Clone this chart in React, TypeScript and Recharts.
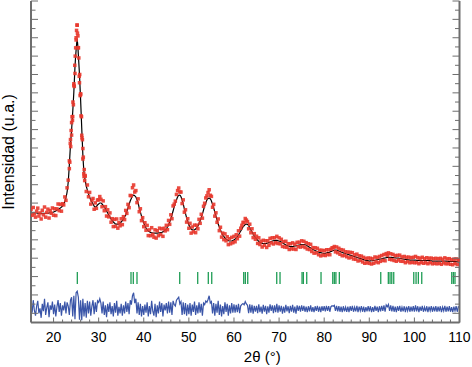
import React from 'react';
import { ComposedChart, Line, Scatter, XAxis, YAxis, ReferenceLine, Label } from 'recharts';

// 2θ grid of the measured pattern (start, step in degrees)
const TWO_THETA_START = 15;
const TWO_THETA_STEP = 0.25;

// calculated (Rietveld fit) intensity, arbitrary units
const calcValues = [
  1192,1192,1192,1192,1192,1192,1190,1189,1187,1187,1187,1187,1187,1187,1188,1189,1192,1193,1194,1197,
  1203,1208,1214,1222,1230,1238,1246,1257,1268,1290,1317,1360,1421,1530,1715,1932,2096,2292,2509,2781,
  2966,3086,2912,2700,2422,2118,1824,1639,1552,1486,1442,1399,1366,1334,1312,1290,1268,1257,1263,1279,
  1290,1301,1301,1290,1274,1257,1236,1214,1192,1170,1148,1127,1110,1094,1083,1072,1072,1072,1072,1083,
  1094,1110,1127,1150,1170,1208,1246,1285,1323,1350,1377,1387,1380,1366,1335,1301,1246,1203,1159,1121,
  1083,1056,1029,1012,996,988,980,977,974,974,974,974,974,975,977,978,980,988,996,1007,
  1018,1040,1061,1094,1127,1170,1214,1258,1301,1334,1366,1384,1386,1370,1335,1290,1236,1187,1138,1100,
  1061,1040,1018,1010,1007,1010,1018,1034,1050,1078,1105,1143,1181,1225,1268,1301,1334,1350,1355,1345,
  1323,1285,1246,1203,1159,1116,1072,1040,1007,980,953,937,920,909,898,893,887,887,887,893,
  898,909,920,937,953,975,996,1018,1040,1054,1067,1070,1068,1055,1030,1007,985,964,942,926,
  909,896,882,874,865,862,860,860,860,862,865,870,876,882,887,890,893,893,893,890,
  887,882,876,868,860,852,844,838,833,830,827,827,827,830,833,835,838,841,844,846,
  849,849,849,846,844,835,827,819,811,803,795,790,784,778,773,768,762,760,757,754,
  751,754,757,760,762,768,773,778,784,787,789,787,784,778,773,768,762,758,754,750,
  746,742,738,734,729,725,721,717,713,709,705,701,697,693,689,684,680,677,675,672,
  669,670,672,673,675,678,680,683,686,689,691,694,697,700,702,705,708,708,708,708,
  708,706,705,703,702,701,700,698,697,694,691,689,686,685,683,682,680,680,680,680,
  680,679,677,676,675,675,675,675,675,675,675,675,675,674,672,671,669,669,669,669,
  669,669,669,669,669,669,669,669,669,668,666,665,664,664,664,664,664,662,661,660,
  658,
];

// observed intensity
const obsValues = [
  1232,1167,1252,1182,1147,1212,1245,1159,1192,1127,1222,1172,1257,1147,1198,1234,1137,1218,1189,1247,
  1168,1238,1164,1237,1290,1218,1286,1212,1293,1280,1367,1330,1466,1550,1675,1992,2176,2242,2599,2711,
  3076,3236,2992,2610,2482,2038,1894,1589,1592,1426,1497,1369,1416,1289,1332,1350,1233,1302,1243,1334,
  1335,1371,1341,1260,1324,1217,1261,1159,1227,1150,1193,1092,1130,1044,1123,1047,1127,1027,1087,1053,
  1129,1065,1152,1120,1220,1188,1286,1250,1383,1380,1467,1497,1420,1436,1305,1346,1206,1238,1109,1141,
  1043,1086,1004,1057,946,1008,945,1032,959,929,1009,919,999,945,1027,958,1020,938,1026,997,
  1058,1010,1111,1069,1172,1130,1269,1288,1321,1394,1436,1464,1421,1420,1295,1335,1201,1227,1093,1130,
  1026,1080,973,1040,987,1060,978,1059,1020,1123,1080,1178,1136,1265,1298,1356,1379,1415,1445,1385,
  1373,1255,1286,1158,1194,1091,1127,1000,1037,930,973,902,965,889,933,848,912,857,927,868,
  938,879,955,912,998,940,1026,1058,1090,1089,1132,1115,1098,1020,1070,977,1020,924,967,906,
  939,861,922,849,885,822,895,840,890,817,890,840,916,867,922,855,923,868,938,860,
  922,857,906,828,880,822,884,818,858,795,857,802,867,800,853,795,873,826,874,821,
  889,829,884,816,869,800,857,794,851,773,815,755,814,758,808,738,787,725,787,734,
  781,729,792,740,792,738,798,813,814,827,769,822,759,808,743,793,727,788,729,770,
  716,767,703,764,709,760,691,737,688,744,670,726,677,723,659,709,645,697,650,702,
  644,700,637,693,645,713,660,708,651,719,666,729,677,740,672,750,733,758,688,748,
  683,741,675,728,667,731,680,733,667,714,666,719,651,710,663,712,650,705,655,710,
  650,719,652,706,640,700,655,710,645,695,650,705,640,699,652,701,639,694,644,699,
  639,694,644,699,634,689,649,704,639,693,641,695,634,684,629,689,644,692,631,685,
  680,
];

// extra observed points measured densely across the main (101) reflection
const peakObsX = [
  23.5,23.6,23.7,23.8,23.9,24.0,24.1,24.2,24.3,24.4,24.5,24.6,24.7,24.8,24.9,25.0,25.1,25.2,
  25.3,25.4,25.5,25.6,25.7,25.8,25.9,26.0,26.1,26.2,26.3,26.4,26.5,26.6,26.7,26.8,26.9,27.0,
];
const peakObsValues = [
  1760,1745,1950,1915,2090,2040,2240,2200,2400,2370,2580,2570,2800,2900,2990,3100,3180,3239,
  3150,3120,2990,2880,2680,2700,2470,2490,2250,2240,2010,1990,1780,1800,1620,1665,1545,1600,
];

// difference curve (observed - calculated, shifted down)
const diffValues = [
  211,107,243,131,75,179,235,99,155,51,203,123,259,83,163,219,59,187,139,227,
  91,195,67,171,243,115,211,75,187,131,227,99,219,179,83,243,275,67,291,35,
  323,340,275,30,243,25,259,67,211,51,235,99,227,75,179,243,91,219,115,235,
  219,259,211,99,227,83,187,59,203,115,219,91,179,67,211,107,235,75,171,99,
  203,75,187,99,227,115,211,91,243,195,291,323,211,259,99,219,83,203,67,179,
  83,195,107,219,67,179,91,235,123,75,203,59,187,99,227,115,211,67,195,131,
  211,99,227,107,219,83,235,195,179,243,259,275,203,227,83,219,91,211,75,195,
  91,211,75,195,115,227,83,187,99,219,107,203,75,211,195,235,219,251,291,211,
  227,99,211,75,203,107,235,83,195,67,179,91,219,115,203,75,187,99,211,107,
  197,107,192,112,202,102,182,197,207,192,227,202,187,102,197,107,192,97,182,117,
  182,102,197,112,172,97,192,117,182,92,177,107,197,127,187,102,187,112,202,107,
  187,117,182,97,172,107,192,122,177,102,182,117,192,107,172,97,187,127,182,117,
  187,127,182,117,172,112,177,122,187,117,167,112,177,127,182,117,172,112,177,127,
  177,122,182,127,177,117,172,182,177,187,127,182,122,177,117,172,112,177,122,167,
  117,172,112,177,127,182,117,167,122,182,112,172,127,177,117,172,112,167,122,177,
  122,177,112,167,117,182,127,172,112,177,122,182,127,187,117,192,172,197,127,187,
  122,182,117,172,112,177,127,182,117,167,122,177,112,172,127,177,117,172,122,177,
  117,187,122,177,112,172,127,182,117,167,122,177,112,172,127,177,117,172,122,177,
  117,172,122,177,112,167,127,182,117,172,122,177,117,167,112,172,127,177,117,172,
  169,
];

// Bragg reflection positions (2θ, degrees)
const braggPositions = [
  25.27, 37.17, 37.68, 38.5, 47.97, 51.96, 54.31, 55.07, 62.16, 62.52, 63.05, 69.48, 70.21,
  75.09, 75.38, 76.13, 79.3, 81.9, 82.25, 82.6, 83.36, 92.54, 94.22, 94.6, 94.98, 95.42,
  99.86, 100.37, 100.88, 101.63, 108.28, 108.64, 109.0,
];
// intensity span of the Bragg tick marks
const braggLow = 420;
const braggHigh = 550;

const xDomain = [15, 110];
const xTicks = [20,22,24,26,28,30,32,34,36,38,40,42,44,46,48,50,52,54,56,58,60,62,64,66,68,70,72,74,76,78,80,82,84,86,88,90,92,94,96,98,100,102,104,106,108,110];
const yDomain = [0, 3500];
const yTicks = [0,100,200,300,400,500,600,700,800,900,1000,1100,1200,1300,1400,1500,1600,1700,1800,1900,2000,2100,2200,2300,2400,2500,2600,2700,2800,2900,3000,3100,3200,3300,3400,3500];

const xAt = (i: number) => TWO_THETA_START + i * TWO_THETA_STEP;
const calcData = calcValues.map((y, i) => ({ x: xAt(i), y }));
const obsData = obsValues.map((y, i) => ({ x: xAt(i), y }));
const peakData = peakObsValues.map((y, i) => ({ x: peakObsX[i], y }));
const diffData = diffValues.map((y, i) => ({ x: xAt(i), y }));

const AXIS = '#6e6e6e';
const RED = '#e8372c';
const BLUE = '#3a55a8';
const GREEN = '#1f9d55';
const FONT = '"Liberation Sans", Arial, Helvetica, sans-serif';

const BottomTick = (p: any) => {
  const v = p.payload.value;
  const major = v % 10 === 0;
  return (
    <g>
      <line x1={p.x} x2={p.x} y1={p.y} y2={p.y - (major ? 5 : 3)} stroke={AXIS} strokeWidth={1} />
      {major && (
        <text x={p.x} y={p.y + 19.5} textAnchor="middle" fontSize={14} fill="#000" fontFamily={FONT}>
          {v}
        </text>
      )}
    </g>
  );
};

const TopTick = (p: any) => {
  const v = p.payload.value;
  const major = v % 10 === 0;
  return <line x1={p.x} x2={p.x} y1={p.y} y2={p.y + (major ? 5 : 3)} stroke={AXIS} strokeWidth={1} />;
};

const LeftTick = (p: any) => {
  const v = p.payload.value;
  const major = v % 200 === 100;
  return <line x1={p.x} x2={p.x + (major ? 7 : 4.5)} y1={p.y} y2={p.y} stroke={AXIS} strokeWidth={1} />;
};

const RightTick = (p: any) => {
  const v = p.payload.value;
  const major = v % 200 === 100;
  return <line x1={p.x} x2={p.x - (major ? 7 : 4.5)} y1={p.y} y2={p.y} stroke={AXIS} strokeWidth={1} />;
};

const XTitle = (p: any) => {
  const vb = p.viewBox || { x: 31, y: 322, width: 428, height: 45 };
  return (
    <text x={vb.x + vb.width / 2 + 17} y={362} textAnchor="middle" fontSize={15} fill="#000" fontFamily={FONT}>
      2θ (°)
    </text>
  );
};

const YTitle = () => (
  <text transform="translate(13.5,152) rotate(-90)" textAnchor="middle" fontSize={16} fill="#000" fontFamily={FONT}>
    Intensidad (u.a.)
  </text>
);

const markerShape = (p: any) => (
  <rect x={p.cx - 1.75} y={p.cy - 1.75} width={3.5} height={3.5} fill={RED} fillOpacity={0.9} />
);

export default function App() {
  return (
    <div style={{ position: 'absolute', left: 0, top: 0, width: 472, height: 367, background: '#fff' }}>
      <ComposedChart width={472} height={367} margin={{ top: 1, right: 0, bottom: 0, left: 0 }}>
        <XAxis
          xAxisId="b"
          dataKey="x"
          type="number"
          domain={xDomain}
          ticks={xTicks}
          interval={0}
          allowDataOverflow
          height={44.5}
          tickSize={0}
          tickMargin={0}
          tickLine={false}
          tick={<BottomTick />}
          axisLine={{ stroke: AXIS, strokeWidth: 2 }}
        >
          <Label content={<XTitle />} />
        </XAxis>
        <XAxis
          xAxisId="t"
          orientation="top"
          type="number"
          domain={xDomain}
          ticks={xTicks}
          interval={0}
          allowDataOverflow
          height={0}
          tickSize={0}
          tickMargin={0}
          tickLine={false}
          tick={<TopTick />}
          axisLine={{ stroke: AXIS, strokeWidth: 2 }}
        />
        <YAxis
          yAxisId="l"
          type="number"
          domain={yDomain}
          ticks={yTicks}
          interval={0}
          allowDataOverflow
          width={31}
          tickSize={0}
          tickMargin={0}
          tickLine={false}
          tick={<LeftTick />}
          axisLine={{ stroke: AXIS, strokeWidth: 2 }}
        >
          <Label content={<YTitle />} />
        </YAxis>
        <YAxis
          yAxisId="r"
          orientation="right"
          type="number"
          domain={yDomain}
          ticks={yTicks}
          interval={0}
          allowDataOverflow
          width={12.5}
          tickSize={0}
          tickMargin={0}
          tickLine={false}
          tick={<RightTick />}
          axisLine={{ stroke: AXIS, strokeWidth: 2 }}
        />
        <Scatter
          xAxisId="b"
          yAxisId="l"
          data={obsData}
          dataKey="y"
          shape={markerShape}
          isAnimationActive={false}
        />
        <Scatter
          xAxisId="b"
          yAxisId="l"
          data={peakData}
          dataKey="y"
          shape={markerShape}
          isAnimationActive={false}
        />
        <Line
          xAxisId="b"
          yAxisId="l"
          data={calcData}
          dataKey="y"
          type="monotone"
          stroke="#000"
          strokeWidth={1.2}
          dot={false}
          activeDot={false}
          isAnimationActive={false}
        />
        <Line
          xAxisId="b"
          yAxisId="l"
          data={diffData}
          dataKey="y"
          type="linear"
          stroke={BLUE}
          strokeWidth={1.2}
          dot={false}
          activeDot={false}
          isAnimationActive={false}
        />
        {braggPositions.map((pos) => (
          <ReferenceLine
            key={pos}
            xAxisId="b"
            yAxisId="l"
            segment={[{ x: pos, y: braggLow }, { x: pos, y: braggHigh }]}
            stroke={GREEN}
            strokeWidth={1.3}
            ifOverflow="visible"
          />
        ))}
      </ComposedChart>
    </div>
  );
}
